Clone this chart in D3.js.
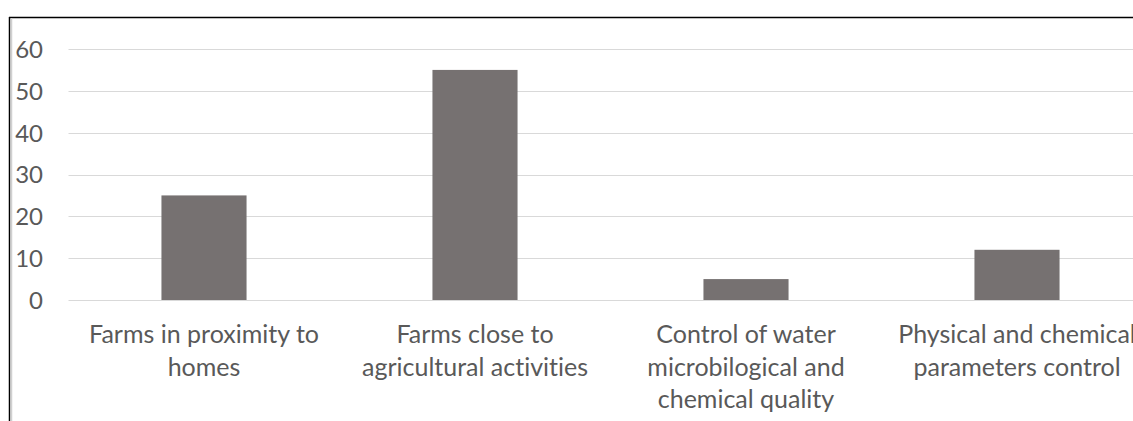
<!DOCTYPE html>
<html>
<head>
<meta charset="utf-8">
<script src="https://cdn.jsdelivr.net/npm/d3@7"></script>
<style>
  html, body { margin: 0; padding: 0; background: #fff; }
  svg { display: block; }
  text { font-variant-ligatures: none; }
</style>
</head>
<body>
<svg id="chart" width="1133" height="421"></svg>
<script>
// Category labels, already broken into the lines they are shown on
const categories = [
  ["Farms in proximity to", "homes"],
  ["Farms close to", "agricultural activities"],
  ["Control of water", "microbilogical and", "chemical quality"],
  ["Physical and chemical", "parameters control"]
];
const values = [25, 55, 5, 12];
const yTicks = [0, 10, 20, 30, 40, 50, 60];

const svg = d3.select("#chart");
const W = 1133, H = 421;
const FONT = "Lato, 'Open Sans', sans-serif";

// frame lines on the top and left edges
svg.append("line").attr("x1", 9).attr("x2", W).attr("y1", 17.5).attr("y2", 17.5)
  .attr("stroke", "#000").attr("stroke-width", 1.5);
svg.append("line").attr("x1", 9.5).attr("x2", 9.5).attr("y1", 17).attr("y2", H)
  .attr("stroke", "#000").attr("stroke-width", 1.5);
svg.append("line").attr("x1", 11.5).attr("x2", 11.5).attr("y1", 18).attr("y2", H)
  .attr("stroke", "#d0d0d0").attr("stroke-width", 1.5);

const plotLeft = 68.5, step = 271;
const x = d3.scaleBand()
  .domain(d3.range(categories.length))
  .range([plotLeft, plotLeft + step * categories.length])
  .paddingInner(0.686).paddingOuter(0.343);

const y = d3.scaleLinear().domain([0, 60]).range([300, 49]);

// horizontal gridlines
svg.append("g").selectAll("line").data(yTicks).join("line")
  .attr("x1", plotLeft).attr("x2", W)
  .attr("y1", d => Math.round(y(d)) + 0.5).attr("y2", d => Math.round(y(d)) + 0.5)
  .attr("stroke", "#d9d9d9").attr("stroke-width", 1);

// y axis tick labels
const yAxis = d3.axisLeft(y).tickValues(yTicks).tickSize(0).tickPadding(0);
const gy = svg.append("g").attr("transform", "translate(43,0)").call(yAxis);
gy.select(".domain").remove();
gy.selectAll("text")
  .attr("fill", "#595959")
  .attr("dy", "0.35em")
  .style("font-family", FONT)
  .style("font-size", "24px");

// bars
svg.append("g").selectAll("rect").data(values).join("rect")
  .attr("x", (d, i) => x(i))
  .attr("width", x.bandwidth())
  .attr("y", d => y(d))
  .attr("height", d => y(0) - y(d))
  .attr("fill", "#767171");

// category labels (the last one runs past the right edge of the frame)
const labels = svg.append("g").selectAll("text").data(categories).join("text")
  .attr("text-anchor", "middle")
  .attr("fill", "#595959")
  .style("font-family", FONT)
  .style("font-size", "25px")
  .attr("transform", (d, i) => `translate(${x(i) + x.bandwidth() / 2},343)`);
labels.selectAll("tspan").data(d => d).join("tspan")
  .attr("x", 0)
  .attr("y", (d, j) => j * 32.5)
  .text(d => d);
</script>
</body>
</html>
